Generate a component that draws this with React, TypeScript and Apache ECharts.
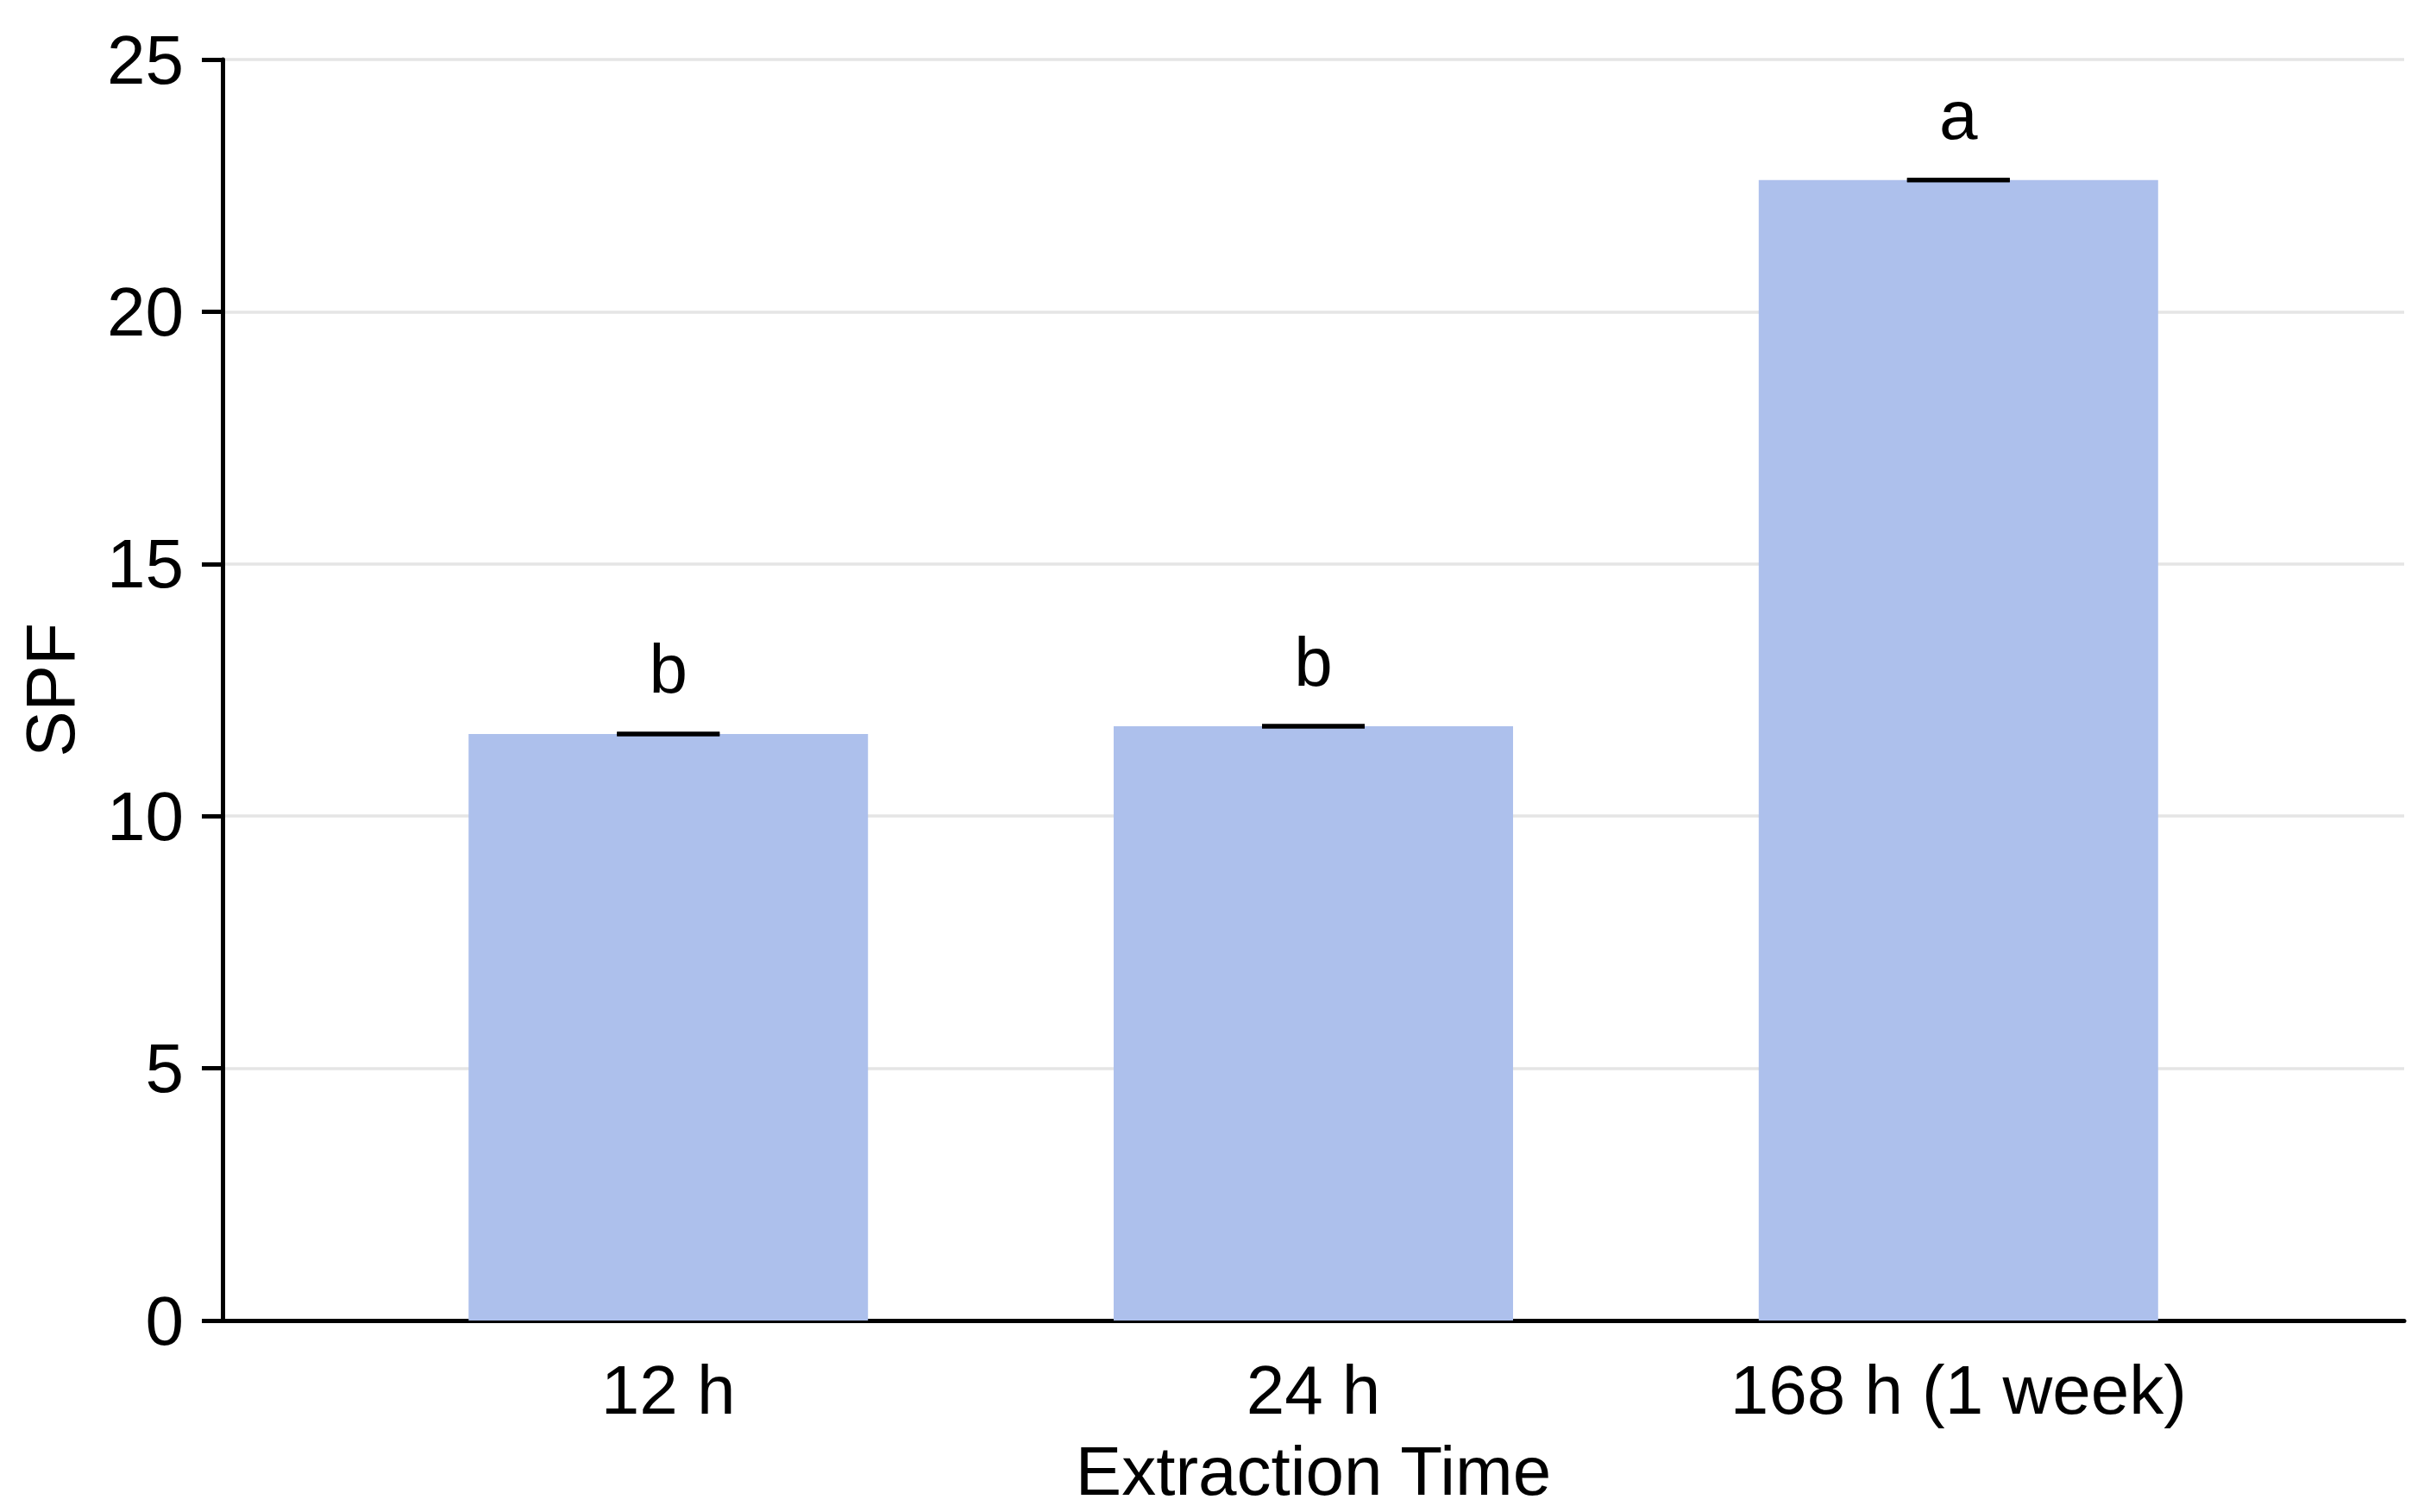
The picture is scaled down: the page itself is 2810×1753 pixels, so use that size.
import React, { useEffect, useRef } from "react";
import * as echarts from "echarts";

const categories = ["12 h", "24 h", "168 h (1 week)"];
const spfValues = [11.63, 11.78, 22.61];
const spfErrors = [0, 0, 0];
const letters = ["b", "b", "a"];
const yTicks = { min: 0, max: 25, interval: 5 };

const FONT = "'Liberation Sans', Arial, Helvetica, sans-serif";

export default function App() {
  const ref = useRef<HTMLDivElement>(null);

  useEffect(() => {
    if (!ref.current) return;
    const chart = echarts.init(ref.current, undefined, { renderer: "svg" });
    const barData = spfValues.map((v, i) => [i, v]);
    const errData = spfValues.map((v, i) => [i, v, spfErrors[i]]);

    chart.setOption({
      animation: false,
      backgroundColor: "#ffffff",
      grid: { left: 258, right: 23, top: 69, bottom: 222 },
      xAxis: {
        type: "value",
        min: -0.691,
        max: 2.691,
        name: "Extraction Time",
        nameLocation: "middle",
        nameGap: 134,
        nameTextStyle: { fontFamily: FONT, fontSize: 80, color: "#000" },
        axisLine: { show: true, onZero: false, lineStyle: { color: "#000", width: 5 } },
        axisTick: { show: false },
        splitLine: { show: false },
        axisLabel: {
          customValues: [0, 1, 2],
          formatter: (v: number) => categories[Math.round(v)] ?? "",
          fontFamily: FONT,
          fontSize: 80,
          color: "#000",
          margin: 40,
        },
      },
      yAxis: {
        type: "value",
        min: yTicks.min,
        max: yTicks.max,
        interval: yTicks.interval,
        name: "SPF",
        nameLocation: "middle",
        nameGap: 160,
        nameRotate: 90,
        nameTextStyle: { fontFamily: FONT, fontSize: 80, color: "#000" },
        axisLine: { show: true, onZero: false, lineStyle: { color: "#000", width: 5 } },
        axisTick: { show: true, length: 24, lineStyle: { color: "#000", width: 5 } },
        splitLine: { show: true, lineStyle: { color: "#e5e5e5", width: 3.5 } },
        axisLabel: { fontFamily: FONT, fontSize: 80, color: "#000", margin: 45 },
      },
      series: [
        {
          type: "bar",
          data: barData,
          barWidth: 463,
          itemStyle: { color: "#adc0ec" },
          label: {
            show: true,
            position: "top",
            distance: 35,
            formatter: (p: any) => letters[p.dataIndex],
            fontFamily: FONT,
            fontSize: 80,
            color: "#000",
          },
          z: 2,
        },
        {
          type: "custom",
          data: errData,
          z: 3,
          renderItem: (params: any, api: any) => {
            const x = api.value(0);
            const v = api.value(1);
            const e = api.value(2);
            const top = api.coord([x, v + e]);
            const bot = api.coord([x, v - e]);
            const half = 59.5;
            const style = { stroke: "#000", lineWidth: 5 };
            return {
              type: "group",
              children: [
                { type: "line", shape: { x1: top[0], y1: top[1], x2: bot[0], y2: bot[1] }, style },
                { type: "line", shape: { x1: top[0] - half, y1: top[1], x2: top[0] + half, y2: top[1] }, style },
                { type: "line", shape: { x1: bot[0] - half, y1: bot[1], x2: bot[0] + half, y2: bot[1] }, style },
              ],
            };
          },
        },
      ],
    });

    return () => chart.dispose();
  }, []);

  return (
    <div
      ref={ref}
      style={{ position: "fixed", left: 0, top: 0, width: 2810, height: 1753, background: "#fff" }}
    />
  );
}
